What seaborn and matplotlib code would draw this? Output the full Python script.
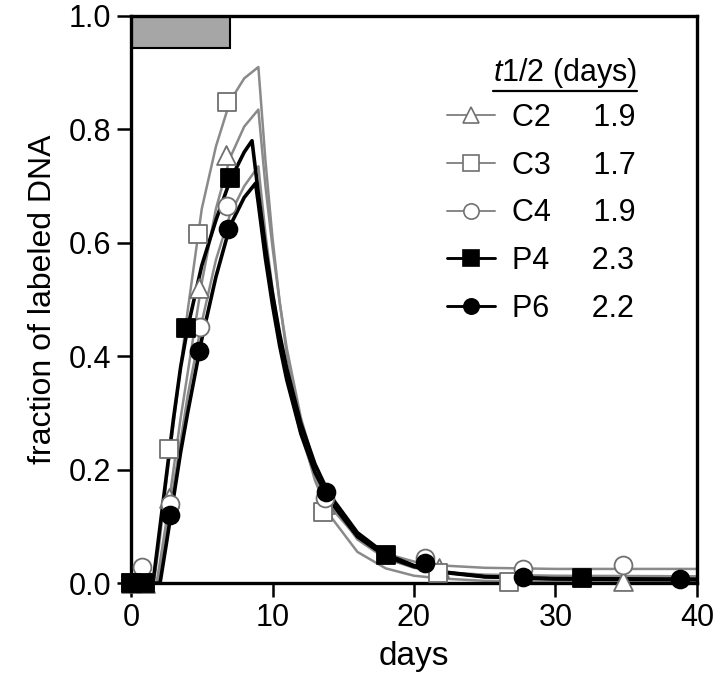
import matplotlib
matplotlib.use("Agg")
import matplotlib.pyplot as plt
import seaborn as sns
from matplotlib.lines import Line2D

# -------------------------------
# 1. Data
# -------------------------------
series = ["C2", "C3", "C4", "P4", "P6"]
half_life = ["1.9", "1.7", "1.9", "2.3", "2.2"]

# measured points
c2_days = [0, 1, 2.7, 4.8, 6.7, 13.7, 21.8, 27.5, 34.8]
c2_frac = [0.0, 0.0, 0.15, 0.52, 0.755, 0.14, 0.026, 0.02, 0.003]
c3_days = [0, 1, 2.7, 4.7, 6.8, 13.6, 21.7, 26.7]
c3_frac = [0.0, 0.0, 0.237, 0.615, 0.848, 0.125, 0.018, 0.002]
c4_days = [0, 0.8, 2.75, 4.9, 6.8, 13.7, 20.8, 27.7, 34.8]
c4_frac = [0.0, 0.028, 0.14, 0.452, 0.665, 0.15, 0.044, 0.025, 0.032]
p4_days = [0, 1, 3.9, 7.0, 18.0, 31.9]
p4_frac = [0.0, 0.0, 0.449, 0.715, 0.05, 0.009]
p6_days = [0, 2.75, 4.8, 6.85, 13.8, 20.8, 27.7, 38.8]
p6_frac = [0.0, 0.12, 0.41, 0.624, 0.161, 0.035, 0.01, 0.008]

# fitted curves
c2_fit_days = [0, 1.8, 2, 2.5, 3, 3.5, 4, 5, 6, 7, 8, 9, 9.5, 10, 10.5, 11, 12, 13, 14, 16, 18, 20, 22, 25, 30, 40]
c2_fit_frac = [0, 0, 0.03, 0.11, 0.2, 0.29, 0.37, 0.53, 0.66, 0.75, 0.805, 0.835, 0.70, 0.592, 0.496, 0.415,
               0.292, 0.206, 0.146, 0.077, 0.043, 0.027, 0.019, 0.015, 0.013, 0.012]
c3_fit_days = [0, 1.6, 2, 2.5, 3, 3.5, 4, 5, 6, 7, 8, 9, 9.5, 10, 10.5, 11, 12, 13, 14, 16, 18, 20, 22, 25, 30, 40]
c3_fit_frac = [0, 0, 0.07, 0.18, 0.28, 0.38, 0.48, 0.66, 0.77, 0.85, 0.89, 0.91, 0.745, 0.608, 0.497, 0.406,
               0.270, 0.181, 0.121, 0.055, 0.026, 0.013, 0.008, 0.004, 0.003, 0.003]
c4_fit_days = [0, 1.9, 2, 2.5, 3, 3.5, 4, 5, 6, 7, 8, 9, 9.5, 10, 10.5, 11, 12, 13, 14, 16, 18, 20, 22, 25, 30, 40]
c4_fit_frac = [0, 0, 0.015, 0.09, 0.17, 0.25, 0.33, 0.46, 0.57, 0.65, 0.70, 0.735, 0.616, 0.518, 0.435, 0.365,
               0.261, 0.188, 0.137, 0.080, 0.052, 0.038, 0.031, 0.027, 0.025, 0.025]
p4_fit_days = [0, 1.55, 2, 2.5, 3, 3.5, 4, 5, 6, 7, 8, 8.55, 9, 9.5, 10, 10.5, 11, 12, 13, 14, 16, 18, 20, 22, 25, 30, 40]
p4_fit_frac = [0, 0, 0.09, 0.19, 0.29, 0.38, 0.45, 0.56, 0.64, 0.71, 0.76, 0.78, 0.687, 0.592, 0.510, 0.440, 0.379,
               0.282, 0.210, 0.157, 0.089, 0.051, 0.031, 0.020, 0.0115, 0.0073, 0.006]
p6_fit_days = [0, 2.05, 2.5, 3, 3.5, 4, 5, 6, 7, 8, 8.8, 9, 9.5, 10, 10.5, 11, 12, 13, 14, 16, 18, 20, 22, 25, 30, 40]
p6_fit_frac = [0, 0, 0.07, 0.15, 0.23, 0.30, 0.43, 0.54, 0.63, 0.68, 0.705, 0.669, 0.572, 0.490, 0.419, 0.359,
               0.264, 0.195, 0.147, 0.082, 0.047, 0.029, 0.019, 0.011, 0.008, 0.007]

# labeling period (gray bar on top)
label_start, label_end = 0, 7

points = [(c2_days, c2_frac), (c3_days, c3_frac), (c4_days, c4_frac), (p4_days, p4_frac), (p6_days, p6_frac)]
fits = [(c2_fit_days, c2_fit_frac), (c3_fit_days, c3_fit_frac), (c4_fit_days, c4_fit_frac),
        (p4_fit_days, p4_fit_frac), (p6_fit_days, p6_fit_frac)]

# -------------------------------
# 2. Styles
# -------------------------------
markers = ["^", "s", "o", "s", "o"]
gray = "#8a8a8a"
line_col = [gray, gray, gray, "black", "black"]
line_w = [1.8, 1.8, 1.8, 2.6, 2.6]
face_col = ["white", "white", "white", "black", "black"]
edge_col = ["#707070", "#707070", "#707070", "black", "black"]

sns.set_style("ticks")
plt.rcParams["font.family"] = ["Liberation Sans", "DejaVu Sans"]
plt.rcParams["mathtext.fontset"] = "custom"
plt.rcParams["mathtext.it"] = "Liberation Sans:italic"
plt.rcParams["mathtext.rm"] = "Liberation Sans"
for key in ["text.color", "axes.labelcolor", "xtick.color", "ytick.color", "axes.edgecolor"]:
    plt.rcParams[key] = "black"

fig = plt.figure(figsize=(7.2, 6.95), dpi=100)
ax = fig.add_axes([0.182, 0.161, 0.786, 0.816])

# -------------------------------
# 3. Curves and points
# -------------------------------
for i in range(len(series)):
    fx, fy = fits[i]
    sns.lineplot(x=fx, y=fy, ax=ax, color=line_col[i], lw=line_w[i],
                 estimator=None, sort=False, zorder=2 + (i >= 3))
for i in range(len(series)):
    px, py = points[i]
    sns.scatterplot(x=px, y=py, ax=ax, marker=markers[i], s=185 if markers[i] == "^" else 165,
                    color=face_col[i], edgecolor=edge_col[i], linewidth=1.3,
                    clip_on=False, zorder=4 + (i >= 3))

ax.axvspan(label_start, label_end, ymin=0.943, ymax=1.0, facecolor="#a6a6a6",
           edgecolor="black", lw=1.5, zorder=1)

# -------------------------------
# 4. Axes
# -------------------------------
ax.set_xlim(0, 40)
ax.set_ylim(0, 1.0)
ax.set_xticks([0, 10, 20, 30, 40])
ax.set_yticks([0.0, 0.2, 0.4, 0.6, 0.8, 1.0])
ax.set_yticklabels(["0.0", "0.2", "0.4", "0.6", "0.8", "1.0"])
ax.tick_params(direction="out", length=10, width=1.8, labelsize=22, pad=4, colors="black")
for sp in ax.spines.values():
    sp.set_linewidth(2.4)
    sp.set_color("black")
    sp.set_visible(True)
ax.set_xlabel("days", fontsize=24, labelpad=6)
ax.set_ylabel("fraction of labeled DNA", fontsize=23, labelpad=8)

# -------------------------------
# 5. Legend
# -------------------------------
handles = []
labels = []
for i in range(len(series)):
    handles.append(Line2D([], [], color=line_col[i], lw=line_w[i] * 0.8, marker=markers[i],
                          markersize=11, markerfacecolor=face_col[i],
                          markeredgecolor=edge_col[i], markeredgewidth=1.2))
    labels.append(f"{series[i]}     {half_life[i]}")

leg = ax.legend(handles, labels, loc="upper left", bbox_to_anchor=(447 / 720, 1 - 103 / 695),
                bbox_transform=fig.transFigure, frameon=False, fontsize=22,
                handlelength=1.57, handletextpad=0.55, labelspacing=0.58,
                borderpad=0, borderaxespad=0)

title = ax.text(493 / 720, 1 - 73 / 695, r"$\mathit{t1/2}$ (days)", transform=fig.transFigure,
                fontsize=22, ha="left", va="center")

fig.canvas.draw()
bb = title.get_window_extent().transformed(fig.transFigure.inverted())
fig.add_artist(Line2D([bb.x0, bb.x1], [bb.y0 - 0.002, bb.y0 - 0.002], color="black", lw=1.6,
                      transform=fig.transFigure))

fig.savefig("out.png", dpi=100)
